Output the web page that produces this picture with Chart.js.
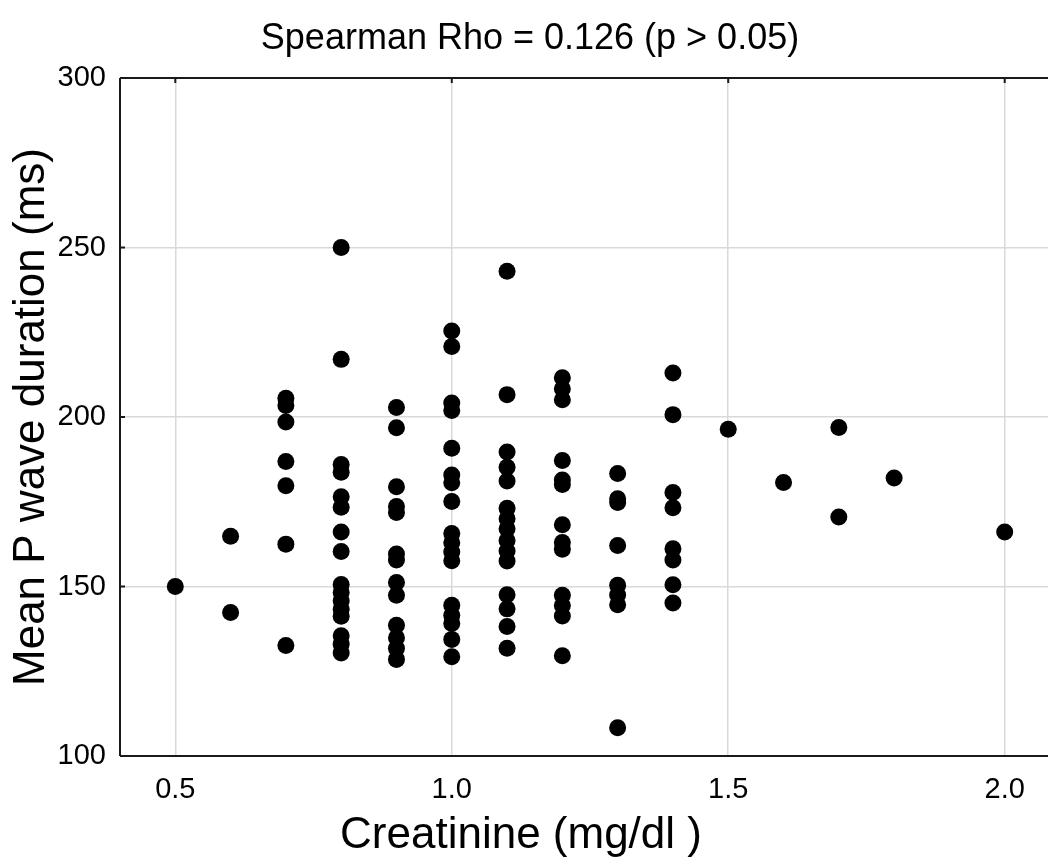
<!DOCTYPE html>
<html>
<head>
<meta charset="utf-8">
<script src="https://cdn.jsdelivr.net/npm/chart.js@4"></script>
<style>
  html, body { margin: 0; padding: 0; background: #fff; overflow: hidden; }
  #wrap { width: 1075px; height: 861px; position: relative; }
</style>
</head>
<body>
<div id="wrap"><canvas id="c"></canvas></div>
<script>
// ---- data ----
const creatinineLevels = [0.5, 0.6, 0.7, 0.8, 0.9, 1.0, 1.1, 1.2, 1.3, 1.4, 1.5, 1.6, 1.7, 1.8, 2.0];
const pWaveByLevel = [
  [150],
  [164.8, 142.3],
  [205.5, 203.4, 198.5, 186.9, 179.7, 162.5, 132.6],
  [250, 217, 186, 183.7, 176.5, 173.4, 166.1, 160.3, 150.6, 148.2, 145.7, 143.3, 141.2, 135.5, 133, 130.4],
  [202.8, 196.8, 179.4, 173.6, 171.8, 159.6, 157.8, 151.2, 147.4, 138.6, 134.9, 131.8, 128.5],
  [225.4, 220.8, 204.1, 201.9, 190.8, 182.9, 180.6, 175.1, 165.6, 162.9, 160.2, 157.6, 144.5, 141.5, 139.1, 134.4, 129.3],
  [243, 206.6, 189.7, 185.2, 181.1, 173.1, 170, 167, 163.6, 160.5, 157.5, 147.6, 143.4, 138.2, 131.8],
  [211.6, 208.3, 205.1, 187.2, 181.4, 180.1, 168.2, 163, 161, 147.4, 144.4, 141.3, 129.6],
  [183.3, 175.9, 174.8, 162.1, 150.4, 147.5, 144.6, 108.3],
  [213, 200.7, 177.7, 173.2, 161.1, 157.8, 150.5, 145.1],
  [196.4],
  [180.7],
  [196.9, 170.5],
  [182],
  [166.1]
];
const xTickValues = [0.5, 1.0, 1.5, 2.0];
const yTickValues = [100, 150, 200, 250, 300];
const titleText = 'Spearman Rho = 0.126 (p > 0.05)';
const xTitleText = 'Creatinine (mg/dl )';
const yTitleText = 'Mean P wave duration (ms)';

// ---- build points ----
const points = [];
creatinineLevels.forEach((x, i) => {
  pWaveByLevel[i].forEach(y => points.push({ x: x, y: y }));
});

const FONT = '"Liberation Sans Narrow", "Liberation Sans", Arial, sans-serif';

const framePlugin = {
  id: 'frame',
  afterDraw(chart) {
    const { ctx, chartArea: a, scales } = chart;
    ctx.save();
    ctx.strokeStyle = '#1a1a1a';
    ctx.lineWidth = 2;
    ctx.beginPath();
    ctx.moveTo(a.left, a.top); ctx.lineTo(a.right, a.top);
    ctx.moveTo(a.left, a.top); ctx.lineTo(a.left, a.bottom);
    ctx.moveTo(a.left, a.bottom); ctx.lineTo(a.right, a.bottom);
    ctx.stroke();
    // small inner ticks on top and left borders
    ctx.beginPath();
    xTickValues.forEach(v => {
      const px = scales.x.getPixelForValue(v);
      ctx.moveTo(px, a.top); ctx.lineTo(px, a.top + 5);
    });
    yTickValues.forEach(v => {
      const py = scales.y.getPixelForValue(v);
      ctx.moveTo(a.left, py); ctx.lineTo(a.left + 5, py);
    });
    ctx.stroke();
    // x axis title
    ctx.fillStyle = '#000';
    ctx.font = '44px ' + FONT;
    ctx.textAlign = 'center';
    ctx.textBaseline = 'middle';
    ctx.fillText(xTitleText, 521, 836);
    // y axis title
    ctx.translate(32, (a.top + a.bottom) / 2);
    ctx.rotate(-Math.PI / 2);
    ctx.font = '44px ' + FONT;
    ctx.fillText(yTitleText, 0, 0);
    ctx.restore();
  }
};

new Chart(document.getElementById('c'), {
  type: 'scatter',
  data: {
    datasets: [{
      data: points,
      backgroundColor: '#000',
      borderColor: '#000',
      pointRadius: 8.5,
      pointHoverRadius: 8.5,
      borderWidth: 0
    }]
  },
  options: {
    responsive: true,
    maintainAspectRatio: false,
    animation: false,
    layout: { padding: { left: 0, right: 15, top: 0, bottom: 0 } },
    plugins: {
      legend: { display: false },
      tooltip: { enabled: false },
      title: {
        display: true,
        text: titleText,
        color: '#000',
        font: { family: FONT, size: 36, weight: 'normal', lineHeight: 1.2 },
        padding: { top: 17, bottom: 17.8 }
      }
    },
    scales: {
      x: {
        type: 'linear',
        min: 0.4,
        max: 2.1,
        afterBuildTicks(scale) { scale.ticks = xTickValues.map(v => ({ value: v })); },
        afterFit(scale) { scale.height = 105; },
        grid: { color: '#d9d9d9', lineWidth: 1.5, drawTicks: false },
        border: { display: false },
        ticks: {
          color: '#000',
          padding: 17,
          font: { family: FONT, size: 29 },
          callback: v => v.toFixed(1)
        }
      },
      y: {
        type: 'linear',
        min: 100,
        max: 300,
        afterBuildTicks(scale) { scale.ticks = yTickValues.map(v => ({ value: v })); },
        afterFit(scale) { scale.width = 120; },
        grid: { color: '#d9d9d9', lineWidth: 1.5, drawTicks: false },
        border: { display: false },
        ticks: {
          color: '#000',
          padding: 14,
          font: { family: FONT, size: 29 },
          callback: v => String(v)
        }
      }
    }
  },
  plugins: [framePlugin]
});
</script>
</body>
</html>
